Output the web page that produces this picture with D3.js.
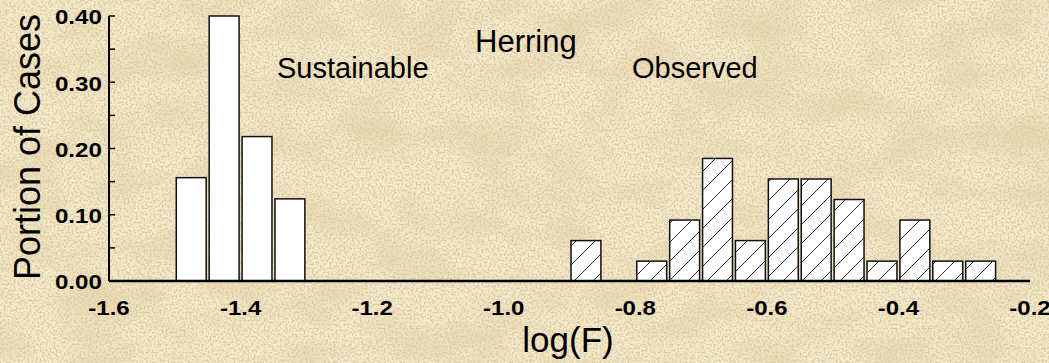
<!DOCTYPE html>
<html>
<head>
<meta charset="utf-8">
<script src="https://cdn.jsdelivr.net/npm/d3@7"></script>
<style>
  html, body { margin: 0; padding: 0; background: #e8d8ae; }
  svg { display: block; }
</style>
</head>
<body>
<svg id="chart" width="1049" height="363"></svg>
<script>
// bin starts of log(F), bin width 0.05
const binWidth = 0.05;
const sustainableBins = [-1.50, -1.45, -1.40, -1.35];
const sustainableValues = [0.156, 0.400, 0.218, 0.124];
const observedBins = [-0.90, -0.80, -0.75, -0.70, -0.65, -0.60, -0.55, -0.50, -0.45, -0.40, -0.35, -0.30];
const observedValues = [0.061, 0.030, 0.092, 0.185, 0.061, 0.154, 0.154, 0.123, 0.030, 0.092, 0.030, 0.030];
const xTicks = [-1.6, -1.4, -1.2, -1.0, -0.8, -0.6, -0.4, -0.2];
const yTicks = [0, 0.1, 0.2, 0.3, 0.4];
const yMinorTicks = [0.05, 0.15, 0.25, 0.35];

const svg = d3.select('#chart');
const W = 1049, H = 363;
const margin = { left: 109, right: 19, top: 16, bottom: 82 };

const x = d3.scaleLinear().domain([-1.6, -0.2]).range([margin.left, W - margin.right]);
const y = d3.scaleLinear().domain([0, 0.4]).range([H - margin.bottom, margin.top]);

const defs = svg.append('defs');

// parchment texture: light base, fine tan grain, soft darker patches
const f = defs.append('filter').attr('id', 'paper').attr('x', 0).attr('y', 0).attr('width', '100%').attr('height', '100%');
f.append('feTurbulence').attr('type', 'fractalNoise').attr('baseFrequency', '0.015 0.025').attr('numOctaves', 3).attr('seed', 8).attr('result', 'coarse');
f.append('feColorMatrix').attr('in', 'coarse').attr('type', 'matrix')
  .attr('values', '0 0 0 0 0.82  0 0 0 0 0.70  0 0 0 0 0.46  0 0 0 -2.4 1.45')
  .attr('result', 'patches');
f.append('feTurbulence').attr('type', 'fractalNoise').attr('baseFrequency', '0.5').attr('numOctaves', 2).attr('seed', 3).attr('result', 'fine');
f.append('feColorMatrix').attr('in', 'fine').attr('type', 'matrix')
  .attr('values', '0 0 0 0 0.74  0 0 0 0 0.61  0 0 0 0 0.38  0 0 0 -4.5 2.55')
  .attr('result', 'specks');
f.append('feMerge').call(m => {
  m.append('feMergeNode').attr('in', 'SourceGraphic');
  m.append('feMergeNode').attr('in', 'patches');
  m.append('feMergeNode').attr('in', 'specks');
});

svg.append('rect').attr('width', W).attr('height', H).attr('fill', '#f4eacc').attr('filter', 'url(#paper)');

// hatch pattern
const pat = defs.append('pattern').attr('id', 'hatch').attr('patternUnits', 'userSpaceOnUse')
  .attr('width', 19).attr('height', 19);
pat.append('rect').attr('width', 19).attr('height', 19).attr('fill', '#fff');
pat.append('path').attr('d', 'M-1,1 l2,-2 M0,19 l19,-19 M18,20 l2,-2')
  .attr('stroke', '#2a2a2a').attr('stroke-width', 1);

const gap = 1.5;
const bw = x(-1.6 + binWidth) - x(-1.6);

// sustainable bars
svg.append('g').selectAll('rect')
  .data(sustainableBins.map((b, i) => ({ b, v: sustainableValues[i] })))
  .join('rect')
  .attr('x', d => x(d.b) + gap)
  .attr('y', d => y(d.v))
  .attr('width', bw - 2 * gap)
  .attr('height', d => y(0) - y(d.v))
  .attr('fill', '#fff')
  .attr('stroke', '#111')
  .attr('stroke-width', 1.5);

// observed bars
svg.append('g').selectAll('rect')
  .data(observedBins.map((b, i) => ({ b, v: observedValues[i] })))
  .join('rect')
  .attr('x', d => x(d.b) + gap)
  .attr('y', d => y(d.v))
  .attr('width', bw - 2 * gap)
  .attr('height', d => y(0) - y(d.v))
  .attr('fill', 'url(#hatch)')
  .attr('stroke', '#111')
  .attr('stroke-width', 1.5);

// tick labels are wide bold digits
const tickFont = t => t
  .attr('font-family', 'Liberation Sans, Arial')
  .attr('font-weight', 'bold')
  .attr('font-size', 20);

// y axis
const yAxis = svg.append('g').attr('transform', `translate(${margin.left},0)`);
yAxis.append('line').attr('x1', 0).attr('x2', 0).attr('y1', y(0.4)).attr('y2', y(0))
  .attr('stroke', '#000').attr('stroke-width', 2);
yAxis.selectAll('line.tick')
  .data(yTicks.concat(yMinorTicks))
  .join('line').attr('class', 'tick')
  .attr('x1', 0).attr('x2', 6)
  .attr('y1', d => y(d)).attr('y2', d => y(d))
  .attr('stroke', '#000').attr('stroke-width', 1.5);
yAxis.selectAll('text')
  .data(yTicks)
  .join('text')
  .attr('transform', d => `translate(-7,${y(d)}) scale(1.21,1)`)
  .attr('dy', '0.42em')
  .attr('text-anchor', 'end')
  .call(tickFont)
  .text(d => d3.format('.2f')(d));

// x axis
const xAxis = svg.append('g');
xAxis.append('line').attr('x1', x(-1.6)).attr('x2', x(-0.2)).attr('y1', y(0)).attr('y2', y(0))
  .attr('stroke', '#000').attr('stroke-width', 2.5);
xAxis.selectAll('text')
  .data(xTicks)
  .join('text')
  .attr('transform', d => `translate(${x(d)},${y(0) + 34}) scale(1.2,1)`)
  .attr('text-anchor', 'middle')
  .call(tickFont)
  .text(d => d3.format('.1f')(d).replace('−', '-'));

// labels
svg.append('text')
  .attr('x', 568).attr('y', 352)
  .attr('text-anchor', 'middle')
  .attr('font-family', 'Liberation Sans, Arial')
  .attr('font-size', 35)
  .text('log(F)');

svg.append('text')
  .attr('transform', 'translate(40,147) rotate(-90)')
  .attr('text-anchor', 'middle')
  .attr('font-family', 'Liberation Sans, Arial')
  .attr('font-size', 36)
  .text('Portion of Cases');

const notes = [
  { t: 'Herring', x: 475, y: 52, s: 31 },
  { t: 'Sustainable', x: 277, y: 78, s: 29 },
  { t: 'Observed', x: 632, y: 78, s: 29 }
];
svg.append('g').selectAll('text')
  .data(notes)
  .join('text')
  .attr('x', d => d.x).attr('y', d => d.y)
  .attr('font-family', 'Liberation Sans, Arial')
  .attr('font-size', d => d.s)
  .text(d => d.t);
</script>
</body>
</html>
